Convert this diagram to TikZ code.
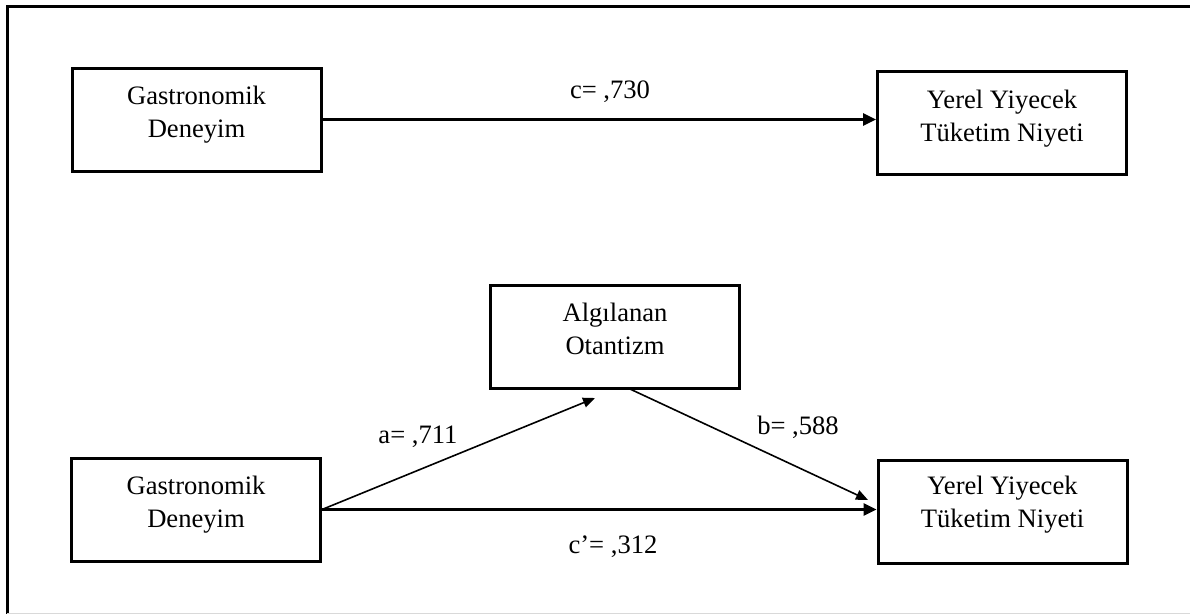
\documentclass[tikz,border=0pt]{standalone}
\usepackage{fontspec}
\setmainfont{Liberation Serif}
\usetikzlibrary{arrows.meta}
\begin{document}
\begin{tikzpicture}[x=1pt,y=-1pt,
  font=\fontsize{26.6}{33}\selectfont,
  varbox/.style={draw, line width=3pt, minimum width=249pt, minimum height=103pt, inner sep=0pt},
  boxtext/.style={align=center, inner sep=0pt},
  mainarrow/.style={line width=2.6pt, -{Triangle[length=13pt,width=12pt]}},
  sidearrow/.style={line width=1.6pt, -{Triangle[length=12pt,width=10pt]}},
  coef/.style={inner sep=0pt}
]
\useasboundingbox (0,0) rectangle (1190,614);

% frame
\draw[line width=3pt] (1190,6) -- (7,6) -- (7,614);
\draw[line width=0.8pt, black!15] (7,613) -- (1190,613);

% total effect model
\node[varbox] (gd1) at (196.5,119.5) {};
\node[boxtext] (gd1t) at (196.5,115) {Gastronomik\\Deneyim};
\node[varbox] (yy1) at (1002,123) {};
\node[boxtext] (yy1t) at (1002,118.5) {Yerel Yiyecek\\Tüketim Niyeti};
\draw[mainarrow] (gd1.east) -- (gd1.east -| yy1.west);
\node[coef] (c) at (610,92) {c= ,730};

% mediation model
\node[varbox] (alg) at (615,336.5) {};
\node[boxtext] (algt) at (615,329) {Algılanan\\Otantizm};
\node[varbox] (gd2) at (196,509.5) {};
\node[boxtext] (gd2t) at (196,505) {Gastronomik\\Deneyim};
\node[varbox] (yy2) at (1002.5,512) {};
\node[boxtext] (yy2t) at (1002.5,505) {Yerel Yiyecek\\Tüketim Niyeti};

\coordinate (atip) at (595,398);
\coordinate (bstart) at (630,389);
\coordinate (btip) at (868,500);

\draw[sidearrow] (gd2.east) -- (atip);
\draw[sidearrow] (bstart) -- (btip);
\draw[mainarrow] (gd2.east) -- (gd2.east -| yy2.west);

\node[coef] (a) at (418,437) {a= ,711};
\node[coef] (b) at (798,427) {b= ,588};
\node[coef] (cp) at (613,547) {c’= ,312};
\end{tikzpicture}
\end{document}
